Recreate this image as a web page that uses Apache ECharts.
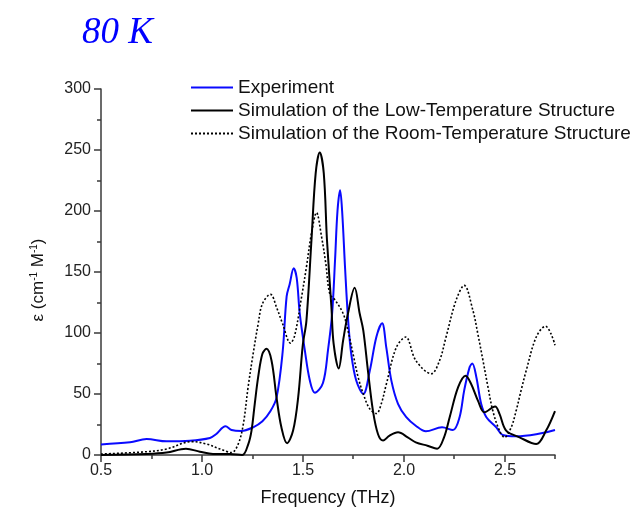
<!DOCTYPE html>
<html>
<head>
<meta charset="utf-8">
<script src="https://cdn.jsdelivr.net/npm/echarts@6.0.0/dist/echarts.min.js"></script>
<style>
  html, body { margin: 0; padding: 0; background: #fff; }
  #chart { width: 635px; height: 515px; }
</style>
</head>
<body>
<div id="chart"></div>
<script>
// values
const expFreq = [0.5, 0.644, 0.726, 0.825, 0.94, 1.04, 1.07, 1.117, 1.147, 1.196, 1.254, 1.30, 1.34, 1.37, 1.40, 1.42, 1.435, 1.455, 1.47, 1.485, 1.51, 1.535, 1.56, 1.60, 1.625, 1.645, 1.66, 1.672, 1.685, 1.695, 1.71, 1.725, 1.74, 1.765, 1.80, 1.832, 1.865, 1.893, 1.914, 1.939, 1.972, 2.013, 2.06, 2.11, 2.19, 2.244, 2.277, 2.30, 2.327, 2.34, 2.36, 2.384, 2.41, 2.459, 2.49, 2.557, 2.657, 2.75];
const expEps = [8.7, 10.4, 13.1, 11.2, 11.7, 14, 17, 23.5, 20.5, 19.7, 22.7, 27.6, 36, 47, 84, 130, 140, 153, 145, 116, 86, 61, 51, 59, 86, 115, 160, 200, 217, 200, 152, 110, 83, 61, 50, 69, 97, 108, 88, 61, 42, 31, 24, 19.4, 22.7, 20.5, 31, 53, 72, 75, 64, 42, 31, 22.7, 16.5, 15.3, 17, 20.5];

const lowFreq = [0.5, 0.726, 0.825, 0.921, 0.99, 1.055, 1.14, 1.20, 1.23, 1.246, 1.262, 1.279, 1.30, 1.32, 1.345, 1.37, 1.394, 1.422, 1.452, 1.477, 1.50, 1.518, 1.543, 1.564, 1.584, 1.604, 1.62, 1.642, 1.653, 1.678, 1.70, 1.724, 1.757, 1.782, 1.80, 1.823, 1.848, 1.873, 1.898, 1.93, 1.972, 2.02, 2.06, 2.118, 2.166, 2.20, 2.228, 2.27, 2.307, 2.335, 2.368, 2.40, 2.453, 2.475, 2.508, 2.574, 2.657, 2.706, 2.75];
const lowEps = [0, 0.8, 2, 5.2, 2.7, 0.8, 0.8, 0, 9, 20, 42, 64, 83, 87, 77.5, 47, 22.7, 9.6, 20, 47, 90, 110, 176, 231, 248, 231, 176, 121, 91, 71, 94, 116, 137, 116, 102, 69, 36, 17, 11.8, 15.9, 18.6, 14.5, 10.4, 7.6, 5.2, 14.5, 31, 55.6, 65, 58, 44.6, 35, 39.7, 33.7, 20, 14.5, 9, 20, 36];

const roomFreq = [0.5, 0.726, 0.825, 0.949, 1.023, 1.089, 1.147, 1.18, 1.205, 1.229, 1.254, 1.279, 1.30, 1.34, 1.37, 1.40, 1.439, 1.46, 1.494, 1.518, 1.543, 1.568, 1.593, 1.614, 1.634, 1.66, 1.70, 1.724, 1.749, 1.774, 1.80, 1.832, 1.865, 1.889, 1.914, 1.963, 2.01, 2.06, 2.137, 2.178, 2.21, 2.26, 2.30, 2.343, 2.368, 2.393, 2.418, 2.442, 2.475, 2.50, 2.533, 2.557, 2.582, 2.607, 2.657, 2.703, 2.731, 2.75];
const roomEps = [0.8, 2.7, 4.9, 11, 9, 5, 2, 9, 25, 55.6, 83, 107.6, 124, 131.7, 121, 107.6, 91.7, 98, 129.5, 154, 181.6, 198.6, 179, 157, 132, 127, 116, 102, 83, 64, 50, 37.8, 34, 42, 58, 88, 96.7, 77.5, 66.6, 77.5, 96.7, 127, 139, 118.6, 99, 77.5, 55.6, 36, 20, 14.5, 22.7, 36, 53, 69, 96.7, 105.5, 99, 90];

const seriesNames = ['Experiment', 'Simulation of the Low-Temperature Structure', 'Simulation of the Room-Temperature Structure'];
const xTicks = [0.5, 1.0, 1.5, 2.0, 2.5];

function pairs(xs, ys) {
    return xs.map((x, i) => [x, ys[i]]);
}

const chart = echarts.init(document.getElementById('chart'));

const axisColor = '#3a3a3a';
const sans = 'Liberation Sans, Arial, sans-serif';
const labelFont = { color: '#222', fontSize: 16, fontFamily: sans };

const option = {
    backgroundColor: '#fff',
    animation: false,
    title: {
        text: '80 K',
        left: 82,
        top: 15,
        padding: 0,
        textStyle: {
            color: '#0000ff',
            fontSize: 37,
            fontStyle: 'italic',
            fontWeight: 'normal',
            fontFamily: 'Liberation Serif, serif',
        },
    },
    legend: {
        orient: 'vertical',
        left: 190,
        top: 78,
        padding: 0,
        itemWidth: 42,
        itemHeight: 14,
        itemGap: 4,
        itemStyle: { opacity: 0 },
        textStyle: { color: '#111', fontSize: 19, fontFamily: sans },
        data: seriesNames,
    },
    grid: [
        { left: 101, right: 80, top: 89, bottom: 60 },
        // only used to draw the long ticks and labels at 0.5 steps
        { left: 101, right: 130, top: 89, bottom: 60 },
    ],
    xAxis: [
        {
            type: 'value',
            gridIndex: 0,
            min: 0.5,
            max: 2.75,
            interval: 0.25,
            axisLine: { show: true, lineStyle: { color: axisColor, width: 1.5 } },
            axisTick: { show: true, length: 4, lineStyle: { color: axisColor, width: 1.5 } },
            axisLabel: { show: false },
            splitLine: { show: false },
            name: 'Frequency (THz)',
            nameLocation: 'middle',
            nameGap: 34,
            nameTextStyle: { color: '#111', fontSize: 18, fontFamily: sans },
        },
        {
            type: 'value',
            gridIndex: 1,
            min: xTicks[0],
            max: xTicks[xTicks.length - 1],
            interval: 0.5,
            axisLine: { show: false },
            axisTick: { show: true, length: 7, lineStyle: { color: axisColor, width: 1.5 } },
            axisLabel: Object.assign({ margin: 8, formatter: (v) => v.toFixed(1) }, labelFont),
            splitLine: { show: false },
        },
    ],
    yAxis: [
        {
            type: 'value',
            gridIndex: 0,
            min: 0,
            max: 300,
            interval: 50,
            axisLine: { show: true, lineStyle: { color: axisColor, width: 1.5 } },
            axisTick: { show: true, length: 7, lineStyle: { color: axisColor, width: 1.5 } },
            minorTick: { show: true, splitNumber: 2, length: 4, lineStyle: { color: axisColor, width: 1.5 } },
            axisLabel: Object.assign({ margin: 10 }, labelFont),
            splitLine: { show: false },
            name: 'ε (cm{sup|-1} M{sup|-1})',
            nameLocation: 'middle',
            nameGap: 54,
            nameTextStyle: {
                color: '#111',
                fontSize: 17,
                fontFamily: sans,
                padding: [0, 16, 0, 0],
                rich: {
                    sup: { fontSize: 10, verticalAlign: 'top', padding: [0, 0, 8, 0], fontFamily: sans, color: '#111' },
                },
            },
        },
        { type: 'value', gridIndex: 1, min: 0, max: 300, show: false },
    ],
    series: [
        {
            name: seriesNames[0],
            type: 'line',
            xAxisIndex: 0,
            yAxisIndex: 0,
            data: pairs(expFreq, expEps),
            smooth: 0.35,
            symbol: 'none',
            lineStyle: { color: '#0a0aff', width: 2 },
            itemStyle: { color: '#0a0aff' },
        },
        {
            name: seriesNames[1],
            type: 'line',
            xAxisIndex: 0,
            yAxisIndex: 0,
            data: pairs(lowFreq, lowEps),
            smooth: 0.35,
            symbol: 'none',
            lineStyle: { color: '#000', width: 2 },
            itemStyle: { color: '#000' },
        },
        {
            name: seriesNames[2],
            type: 'line',
            xAxisIndex: 0,
            yAxisIndex: 0,
            data: pairs(roomFreq, roomEps),
            smooth: 0.35,
            symbol: 'none',
            lineStyle: { color: '#000', width: 1.6, type: [2, 2] },
            itemStyle: { color: '#000' },
        },
    ],
};

chart.setOption(option);
</script>
</body>
</html>
